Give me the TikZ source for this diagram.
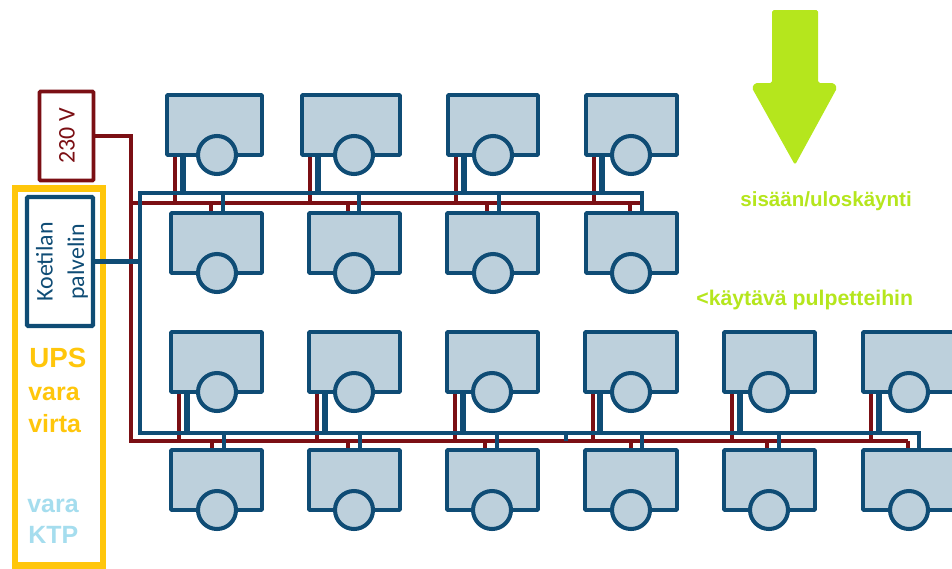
\documentclass[tikz,border=0pt]{standalone}
\usepackage{fontspec}
\setmainfont{Liberation Sans}
\newfontfamily\labelfont{Carlito}

\definecolor{netblue}{HTML}{0F4C75}
\definecolor{deskfill}{HTML}{BDD0DC}
\definecolor{powerred}{HTML}{7B0F14}
\definecolor{upsyellow}{HTML}{FFC60B}
\definecolor{spareblue}{HTML}{A5DDEE}
\definecolor{exitlime}{HTML}{B5E61D}

\tikzset{
    desktop/.style={draw=netblue, fill=deskfill, line width=2.2pt, inner sep=0pt, rounded corners=0.5pt},
    seat/.style={circle, draw=netblue, fill=deskfill, line width=2.3pt, inner sep=0pt, minimum size=38*0.02cm},
    powerline/.style={draw=powerred, line width=2.3pt},
    netline/.style={draw=netblue, line width=2.3pt},
    netdrop/.style={draw=netblue, line width=3.3pt},
    upstext/.style={anchor=base west, inner sep=0pt, font=\fontsize{14.2}{16}\selectfont\bfseries, text=upsyellow},
    sparetext/.style={anchor=base west, inner sep=0pt, font=\fontsize{14.2}{16}\selectfont\bfseries, text=spareblue},
    exittext/.style={anchor=base west, inner sep=0pt, font=\fontsize{11.7}{14}\selectfont\bfseries, text=exitlime},
}

\newcommand{\deskunit}[6]{%
    \node[desktop, minimum width=(#3-#2)*0.02cm, minimum height=(#5-#4)*0.02cm]
        (d#1) at ({(#2+#3)/2},{(#4+#5)/2}) {};
    \node[seat] (c#1) at (#6,#5) {};
}

\begin{document}
\begin{tikzpicture}[x=0.02cm, y=-0.02cm]
    \useasboundingbox (0,0) rectangle (952,568);
    \clip (0,0) rectangle (952,568);

    % exit arrow
    \fill[exitlime, rounded corners=1pt] (772,10) -- (818,10) -- (818,83) -- (834,83)
        -- (837,88) -- (795,165) -- (752,88) -- (755,83) -- (772,83) -- cycle;

    % left boxes
    \node[draw=upsyellow, line width=3.6pt, inner sep=0pt, minimum width=88*0.02cm, minimum height=377*0.02cm]
        (upsbox) at (59,377) {};
    \node[draw=powerred, line width=2.1pt, inner sep=0pt, minimum width=54*0.02cm, minimum height=89*0.02cm,
        rounded corners=0.5pt] (psu) at (66.5,136) {};
    \node[draw=netblue, line width=2.3pt, inner sep=0pt, minimum width=66*0.02cm, minimum height=129*0.02cm,
        rounded corners=0.5pt] (server) at (60,261.5) {};

    \node[rotate=90, text=powerred, font=\labelfont\fontsize{13.6}{16}\selectfont] (psutext) at (67,136) {230 V};
    \node[rotate=90, text=netblue, align=center, font=\labelfont\fontsize{13.6}{18}\selectfont]
        (servertext) at (62,262) {Koetilan\\palvelin};

    \node[upstext, font=\fontsize{15.8}{18}\selectfont\bfseries] (ups) at (29,367) {UPS};
    \node[upstext] (vara1) at (28,400) {vara};
    \node[upstext] (virta) at (28,432) {virta};
    \node[sparetext] (vara2) at (27,512) {vara};
    \node[sparetext] (ktp) at (28,543) {KTP};

    \node[exittext] (exit) at (740,206) {sisään/uloskäynti};
    \node[exittext, font=\fontsize{12.1}{14}\selectfont\bfseries] (aisle) at (696,305) {<käytävä pulpetteihin};

    % desks
    \foreach \n/\xa/\xb/\cx in {1/167/262/217, 2/302/400/354, 3/448/538/493, 4/586/677/631}
        \deskunit{1\n}{\xa}{\xb}{95}{155}{\cx};
    \foreach \n/\xa/\xb/\cx in {1/171/262/217, 2/309/400/354, 3/447/538/493, 4/586/677/631}
        \deskunit{2\n}{\xa}{\xb}{213}{273}{\cx};
    \foreach \n/\xa/\xb/\cx in {1/171/262/217, 2/309/400/354, 3/447/538/492, 4/585/677/631, 5/724/815/769, 6/863/960/909}
        \deskunit{3\n}{\xa}{\xb}{332}{392}{\cx};
    \foreach \n/\xa/\xb/\cx in {1/171/262/217, 2/309/400/354, 3/447/538/492, 4/585/677/631, 5/724/815/769, 6/863/960/909}
        \deskunit{4\n}{\xa}{\xb}{450}{510}{\cx};

    \coordinate (pcorner) at (131,136);
    \coordinate (ptop) at (131,203);
    \coordinate (ptopend) at (640,203);
    \coordinate (plow) at (131,441);
    \coordinate (plowend) at (908,441);
    \coordinate (ntop) at (140,193);
    \coordinate (ntopend) at (642,193);
    \coordinate (nlow) at (140,433);
    \coordinate (nlowend) at (919,433);

    % power
    \draw[powerline] (psu.east) -- (pcorner) -- (plow) -- (plowend);
    \draw[powerline] (ptop) -- (ptopend);
    \foreach \n/\rx in {1/175, 2/310, 3/456, 4/594}
        \draw[powerline] (\rx,0 |- d1\n.south) -- (\rx,0 |- ptop);
    \foreach \n/\rx in {1/211, 2/348, 3/487, 4/630}
        \draw[powerline] (\rx,0 |- ptop) -- (\rx,0 |- d2\n.north);
    \foreach \n/\rx in {1/179, 2/317, 3/455, 4/593, 5/732, 6/871}
        \draw[powerline] (\rx,0 |- d3\n.south) -- (\rx,0 |- plow);
    \foreach \n/\rx in {1/212, 2/348, 3/485, 4/631, 5/767, 6/908}
        \draw[powerline] (\rx,0 |- plow) -- (\rx,0 |- d4\n.north);

    % network
    \draw[netline] (server.east) -- (ntop |- server.east);
    \draw[netline] (ntopend |- d24.north) -- (ntopend) -- (ntop) -- (nlow) -- (nlowend) -- (nlowend |- d46.north);
    \draw[netline] (566,0 |- nlow) -- (566,0 |- plow);
    \foreach \n/\bx in {1/183, 2/318, 3/464, 4/602}
        \draw[netdrop] (\bx,0 |- d1\n.south) -- (\bx,0 |- ntop);
    \foreach \n/\bx in {1/223, 2/359, 3/499}
        \draw[netline] (\bx,0 |- ntop) -- (\bx,0 |- d2\n.north);
    \foreach \n/\bx in {1/187, 2/325, 3/463, 4/600, 5/740, 6/879}
        \draw[netdrop] (\bx,0 |- d3\n.south) -- (\bx,0 |- nlow);
    \foreach \n/\bx in {1/224, 2/360, 3/497, 4/642, 5/779}
        \draw[netline] (\bx,0 |- nlow) -- (\bx,0 |- d4\n.north);
\end{tikzpicture}
\end{document}
